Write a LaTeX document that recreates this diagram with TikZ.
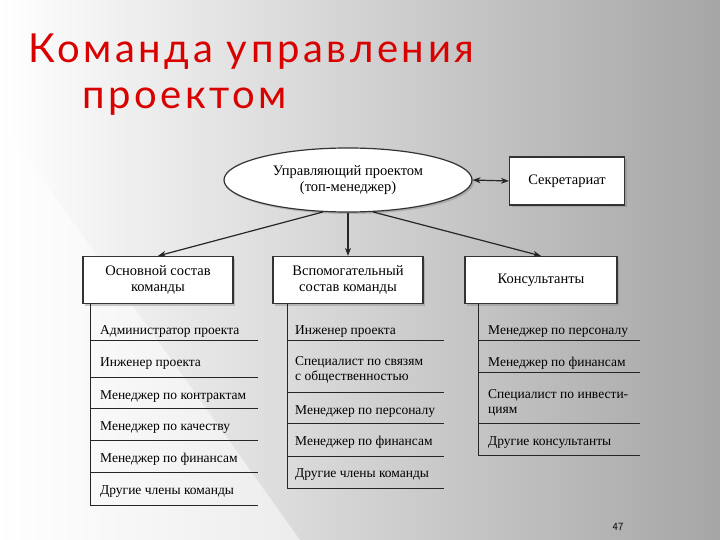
\documentclass[tikz,border=0pt]{standalone}
\usepackage{fontspec}
\setmainfont{Liberation Serif}
\newfontfamily\titlefont[LetterSpace=9]{Lato}
\usetikzlibrary{shapes.geometric,arrows.meta,shadows}
\begin{document}
\begin{tikzpicture}[x=1pt,y=-1pt,
  box/.style={draw=black!80,line width=1.2pt,fill=white,minimum width=150pt,minimum height=47pt,align=center,font=\fontsize{14.5}{16.5}\selectfont,drop shadow={shadow xshift=2pt,shadow yshift=-2pt,opacity=0.4}},
  item/.style={anchor=base west,font=\fontsize{13.5}{15}\selectfont,align=left,inner sep=0pt},
  rule/.style={draw=black!85,line width=0.9pt},
  ttl/.style={anchor=west,font=\titlefont\fontsize{40}{42}\selectfont,inner sep=0pt,text=red!85!black},
  arr/.style={-{Stealth[length=8pt,width=6pt]},line width=1.2pt,draw=black!85}]
\useasboundingbox (0,0) rectangle (720,540);
\shade[left color=white,right color=black!35] (0,0) rectangle (720,540);
\fill[white,opacity=0.5] (0,540) -- (0,120) -- (300,540) -- cycle;
\node[ttl] (t1) at (28,52) {Команда управления};
\node[ttl] (t2) at (82,102) {проектом};
\node[ellipse,draw=black!80,line width=1.2pt,fill=white,minimum width=248pt,minimum height=64pt,align=center,font=\fontsize{14.5}{16.5}\selectfont,drop shadow={shadow xshift=2pt,shadow yshift=-2pt,opacity=0.4}] (pm) at (348,180) {Управляющий проектом\\(топ-менеджер)};
\node[box,minimum width=115pt,minimum height=48pt] (sec) at (567,181) {Секретариат};
\node[box] (b1) at (158,280) {Основной состав\\команды};
\node[box] (b2) at (348,280) {Вспомогательный\\состав команды};
\node[box,minimum width=152pt] (b3) at (541,280) {Консультанты};
\draw[arr,{Stealth[length=8pt,width=6pt]}-{Stealth[length=8pt,width=6pt]}] (pm.east) -- (sec.west);
\draw[arr] (pm.232) -- (b1.north);
\draw[arr] (pm.south) -- (b2.north);
\draw[arr] (pm.308) -- (b3.north);
% left list
\draw[rule,line width=0.6pt] (90,303) -- (90,505);
\foreach \y in {340,377,408,440,472,505} \draw[rule] (90,\y) -- (258,\y);
\node[item] (a1) at (100,334) {Администратор проекта};
\node[item] (a2) at (100,366) {Инженер проекта};
\node[item] (a3) at (100,399) {Менеджер по контрактам};
\node[item] (a4) at (100,430) {Менеджер по качеству};
\node[item] (a5) at (100,462) {Менеджер по финансам};
\node[item] (a6) at (100,494) {Другие члены команды};
% mid list
\draw[rule,line width=0.6pt] (287,303) -- (287,488);
\foreach \y in {340,392,423,456,488} \draw[rule] (287,\y) -- (444,\y);
\node[item] (m1) at (295,334) {Инженер проекта};
\node[item,anchor=west] (m2) at (295,370) {Специалист по связям\\с общественностью};
\node[item] (m3) at (295,414) {Менеджер по персоналу};
\node[item] (m4) at (295,445) {Менеджер по финансам};
\node[item] (m5) at (295,477) {Другие члены команды};
% right list
\draw[rule,line width=0.6pt] (478,303) -- (478,455);
\foreach \y in {340,372,423,455} \draw[rule] (478,\y) -- (640,\y);
\node[item] (r1) at (488,334) {Менеджер по персоналу};
\node[item] (r2) at (488,366) {Менеджер по финансам};
\node[item,anchor=west] (r3) at (488,403) {Специалист по инвести-\\циям};
\node[item] (r4) at (488,445) {Другие консультанты};
\node[font=\fontsize{11}{12}\selectfont\sffamily] (pg) at (618,527) {47};
\end{tikzpicture}
\end{document}
